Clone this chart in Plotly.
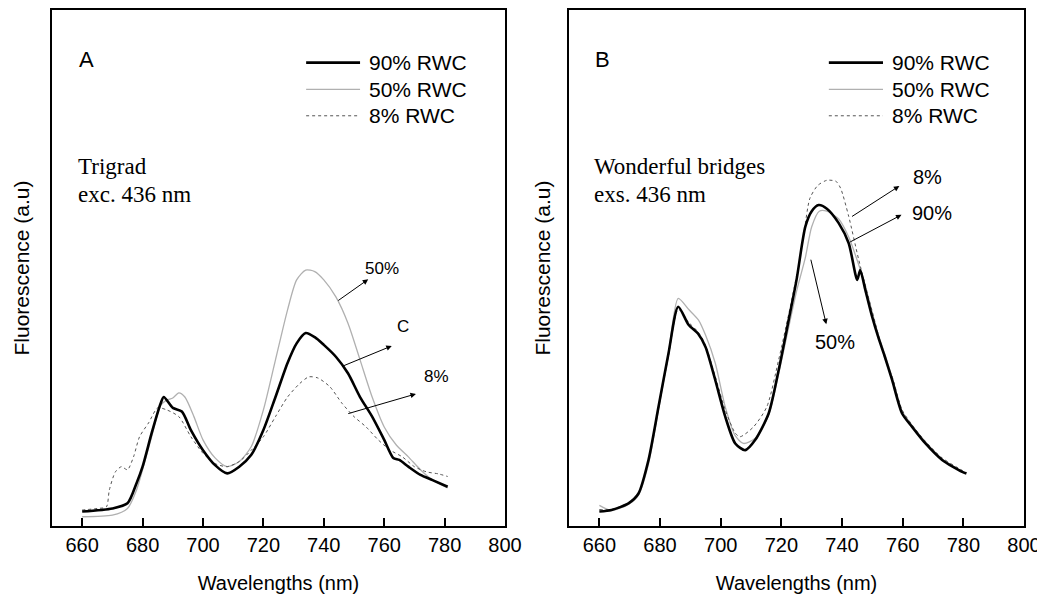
import plotly.graph_objects as go

# ---------------- Data ----------------
# Panel A: Trigrad
a_wl_90 = [660, 670, 675, 678, 680, 683, 686, 687, 690, 693, 696, 700, 704, 708, 712, 716, 720, 724, 728,
           731, 734, 737, 740, 744, 748, 752, 756, 760, 763, 765, 768, 772, 776, 781]
a_y_90 = [2.8, 3.4, 4.4, 8.3, 11.5, 18.0, 23.8, 25.0, 22.9, 22.2, 18.6, 14.7, 11.8, 10.2, 11.5, 13.8, 18.6,
          25.0, 31.6, 35.4, 37.4, 36.6, 35.1, 32.8, 29.6, 25.0, 21.2, 16.7, 13.2, 12.8, 11.5, 9.9, 8.9, 7.6]

a_wl_50 = [660, 670, 675, 678, 680, 683, 686, 688, 690, 692, 694, 697, 700, 704, 708, 712, 716, 720, 724,
           728, 731, 734, 737, 740, 744, 748, 752, 756, 760, 764, 768, 772, 776, 781]
a_y_50 = [1.8, 2.1, 3.4, 7.0, 10.9, 17.3, 23.4, 24.4, 24.8, 25.8, 25.0, 21.2, 16.7, 13.2, 11.5, 12.5, 15.4,
          22.5, 32.2, 41.9, 47.7, 49.6, 49.3, 47.7, 44.4, 39.3, 32.2, 25.0, 19.2, 15.7, 13.4, 10.9, 8.9, 7.4]

a_wl_8 = [660, 665, 668, 669, 671, 673, 675, 677, 679, 682, 685, 688, 692, 696, 700, 704, 708, 712, 716,
          720, 724, 728, 732, 735, 738, 742, 746, 750, 754, 758, 762, 766, 770, 774, 778, 781]
a_y_8 = [3.1, 3.4, 3.7, 7.0, 10.5, 11.5, 10.9, 13.4, 17.3, 20.0, 22.9, 22.5, 21.2, 17.3, 14.1, 12.1, 11.5,
         12.5, 14.7, 17.3, 21.2, 25.0, 27.6, 28.9, 28.7, 27.0, 23.8, 21.2, 19.2, 16.7, 14.7, 13.4, 11.5,
         10.5, 10.1, 9.6]

# Panel B: Wonderful bridges
b_wl_90 = [660, 664, 669.6, 672.9, 676.2, 679.5, 682.8, 686, 689.4, 692.5, 695, 698.2, 701.5, 704.8, 708.1,
           711.4, 715.8, 719.1, 722.4, 725, 727.9, 730, 732.3, 735, 738.9, 742.2, 745, 746, 747.7, 749.9,
           752, 754, 756.5, 759.8, 763.1, 767.5, 773, 779.6, 781]
b_y_90 = [2.8, 3.1, 4.4, 6.3, 12.8, 23.1, 33.5, 42.5, 39.0, 37.3, 34.7, 28.3, 21.2, 16.0, 14.7, 16.7, 21.8,
          30.2, 39.9, 47.7, 58.0, 61.0, 62.2, 61.5, 58.7, 54.8, 47.7, 49.6, 45.7, 40.6, 36.5, 33.0, 28.3,
          21.8, 19.2, 16.0, 12.8, 10.5, 10.2]

b_wl_50 = [660, 664, 669.6, 672.9, 676.2, 679.5, 682.8, 686, 689.4, 692.7, 695, 698.2, 701.5, 704.8, 707.5,
           711.4, 715.8, 719.1, 722.4, 725, 727.9, 730, 732.5, 735, 738.9, 742.2, 745, 747.7, 749.9, 752,
           754, 756.5, 759.8, 763.1, 767.5, 773, 779.6, 781]
b_y_50 = [4.0, 3.0, 4.2, 6.0, 12.0, 22.5, 33.5, 44.1, 42.0, 39.9, 37.0, 31.6, 23.1, 17.5, 16.0, 17.0, 21.5,
          29.5, 38.5, 45.5, 52.0, 58.0, 61.0, 61.0, 59.5, 56.0, 51.5, 46.5, 41.5, 37.0, 33.5, 28.8, 22.3,
          19.5, 16.3, 13.0, 10.6, 10.3]

b_wl_8 = [660, 664, 669.6, 672.9, 676.2, 679.5, 682.8, 686, 689.4, 692.7, 695, 698.2, 701.5, 704.8, 706.4,
          710.8, 715.2, 719.1, 722.4, 725, 727.5, 729.4, 732, 735, 738, 739.5, 742.2, 745.5, 749.8, 754.3,
          756.5, 759.8, 763.1, 767.5, 773, 779.6, 781]
b_y_8 = [3.2, 3.2, 4.5, 6.3, 12.5, 22.8, 33.0, 42.0, 39.5, 37.5, 35.0, 29.0, 22.5, 18.0, 17.3, 19.2, 23.1,
         32.2, 41.0, 48.5, 57.0, 63.5, 66.0, 67.0, 66.8, 65.5, 60.0, 51.6, 41.9, 32.2, 29.0, 22.5, 19.6,
         16.4, 13.2, 10.8, 10.4]

x_tick_vals = [660, 680, 700, 720, 740, 760, 780, 800]
x_tick_text = ["660", "680", "700", "720", "740", "760", "780", "800"]

series_names = ["90% RWC", "50% RWC", "8% RWC"]

# ---------------- Styles ----------------
STY = {
    "90% RWC": dict(color="#000000", width=2.6, dash="solid"),
    "50% RWC": dict(color="#b0b0b0", width=1.3, dash="solid"),
    "8% RWC": dict(color="#555555", width=1.0, dash="dot"),
}
SANS = "Liberation Sans, Arial, sans-serif"
SERIF = "Liberation Serif, Times New Roman, serif"

fig = go.Figure()

panels = [
    ("x", "y", [(a_wl_90, a_y_90), (a_wl_50, a_y_50), (a_wl_8, a_y_8)]),
    ("x2", "y2", [(b_wl_90, b_y_90), (b_wl_50, b_y_50), (b_wl_8, b_y_8)]),
]
# draw order: 50% first (light), then 8%, then 90% on top
for xa, ya, data in panels:
    for idx in [1, 2, 0]:
        wl, yy = data[idx]
        name = series_names[idx]
        fig.add_trace(go.Scatter(x=wl, y=yy, mode="lines", name=name, showlegend=False,
                                 line=dict(color=STY[name]["color"], width=STY[name]["width"],
                                           dash=STY[name]["dash"], shape="spline", smoothing=0.7),
                                 xaxis=xa, yaxis=ya))

axis_common = dict(showline=True, linecolor="black", linewidth=1.5, mirror=True,
                   showgrid=False, zeroline=False, automargin=False)

xaxis_common = dict(range=[650, 800], tickvals=x_tick_vals, ticktext=x_tick_text,
                    ticks="inside", ticklen=8, tickwidth=1.5, tickcolor="black",
                    tickfont=dict(size=20, family=SANS),
                    title=dict(text="Wavelengths (nm)", font=dict(size=20, family=SANS), standoff=21),
                    **axis_common)

# page body has an 8px margin, so the figure is 1037x586 inside the 1045x594 window
y_dom = [0.1160, 0.9966]
fig.update_layout(
    width=1037, height=586,
    margin=dict(l=0, r=0, t=0, b=0),
    paper_bgcolor="white", plot_bgcolor="white",
    font=dict(family=SANS, color="black"),
    xaxis=dict(domain=[0.0424, 0.4793], anchor="y", **xaxis_common),
    yaxis=dict(domain=y_dom, range=[0, 100], showticklabels=False, ticks="", anchor="x",
               title=dict(text="Fluorescence (a.u)", font=dict(size=21, family=SANS), standoff=15),
               **axis_common),
    xaxis2=dict(domain=[0.5410, 0.9798], anchor="y2", **xaxis_common),
    yaxis2=dict(domain=y_dom, range=[0, 100], showticklabels=False, ticks="", anchor="x2",
                title=dict(text="Fluorescence (a.u)", font=dict(size=21, family=SANS), standoff=11),
                **axis_common),
)

annotations = []
shapes = []

# Panel letters, site labels and custom legends
panel_meta = [
    ("x", "y", "A", ["Trigrad", "exc. 436 nm"], 0.077, 0.053, 0.561, 0.680, 0.695),
    ("x2", "y2", "B", ["Wonderful bridges", "exs. 436 nm"], 0.0725, 0.0505, 0.571, 0.690, 0.705),
]
leg_rows = [0.898, 0.846, 0.795]
for xa, ya, letter, site, lx, sx, l0, l1, tx in panel_meta:
    xr = xa + " domain"
    yr = ya + " domain"
    annotations.append(dict(x=lx, y=0.905, xref=xr, yref=yr, text=letter, showarrow=False,
                            font=dict(size=22, family=SANS), xanchor="center", yanchor="middle"))
    annotations.append(dict(x=sx, y=0.696, xref=xr, yref=yr, text=site[0], showarrow=False,
                            font=dict(size=23, family=SERIF), xanchor="left", yanchor="middle"))
    annotations.append(dict(x=sx, y=0.643, xref=xr, yref=yr, text=site[1], showarrow=False,
                            font=dict(size=23, family=SERIF), xanchor="left", yanchor="middle"))
    for name, ry in zip(series_names, leg_rows):
        st = STY[name]
        shapes.append(dict(type="line", xref=xr, yref=yr, x0=l0, x1=l1, y0=ry, y1=ry,
                           line=dict(color=st["color"], width=st["width"], dash=st["dash"])))
        annotations.append(dict(x=tx, y=ry, xref=xr, yref=yr, text=name, showarrow=False,
                                font=dict(size=21, family=SANS), xanchor="left", yanchor="middle"))

# Curve labels with arrows (tail -> head), in data coordinates
arrow_labels_a = ["50%", "C", "8%"]
arrow_tail_a = [(744.3, 43.5), (745.9, 30.9), (747.6, 21.7)]
arrow_head_a = [(754.7, 47.8), (762.5, 34.9), (770.5, 25.6)]
label_pos_a = [(759.3, 50.0), (766.2, 38.6), (777.2, 28.9)]

arrow_labels_b = ["8%", "90%", "50%"]
arrow_tail_b = [(742.8, 59.8), (742.2, 54.9), (729.6, 51.9)]
arrow_head_b = [(758.9, 65.9), (759.6, 60.3), (734.8, 39.1)]
label_pos_b = [(768.3, 67.6), (769.6, 60.7), (737.8, 35.7)]

for xa, ya, labels, tails, heads, lpos, fs in [
        ("x", "y", arrow_labels_a, arrow_tail_a, arrow_head_a, label_pos_a, 17),
        ("x2", "y2", arrow_labels_b, arrow_tail_b, arrow_head_b, label_pos_b, 20)]:
    for lab, (tx_, ty_), (hx, hy), (px, py) in zip(labels, tails, heads, lpos):
        annotations.append(dict(x=hx, y=hy, ax=tx_, ay=ty_, xref=xa, yref=ya, axref=xa, ayref=ya,
                                text="", showarrow=True, arrowhead=2, arrowsize=1.1, arrowwidth=1,
                                arrowcolor="black", standoff=0, startstandoff=0))
        annotations.append(dict(x=px, y=py, xref=xa, yref=ya, text=lab, showarrow=False,
                                font=dict(size=fs, family=SANS), xanchor="center", yanchor="middle"))

fig.update_layout(annotations=annotations, shapes=shapes)

fig.write_html("out.html")
